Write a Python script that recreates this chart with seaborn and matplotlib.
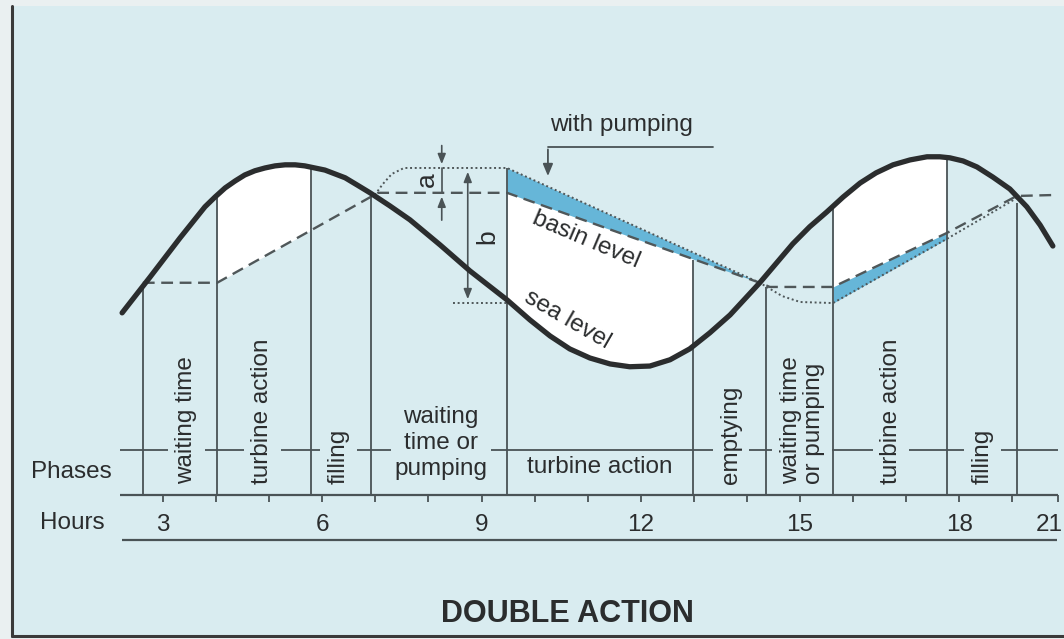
import numpy as np
import matplotlib
matplotlib.use("Agg")
import matplotlib.pyplot as plt
from matplotlib.patches import Rectangle
from matplotlib.lines import Line2D
import seaborn as sns

# sea level (tide): hours / metres about mean level
sea_hours = [2.23, 2.76, 3.32, 3.79, 3.98, 4.17, 4.36, 4.54, 4.73, 4.92, 5.11, 5.30,
             5.49, 5.67, 5.86, 6.05, 6.24, 6.43, 6.65, 6.90, 7.27, 7.65, 8.22, 8.78,
             9.48, 9.91, 10.29, 10.66, 11.04, 11.42, 11.79, 12.17, 12.55, 12.92, 13.30,
             13.68, 14.24, 14.86, 15.18, 15.50, 15.81, 16.13, 16.43, 16.75, 17.07,
             17.39, 17.63, 17.82, 18.07, 18.33, 18.63, 18.95, 19.27, 19.52, 19.76]
sea_level = [-1.37, -0.34, 0.77, 1.66, 1.94, 2.20, 2.40, 2.57, 2.69, 2.77, 2.83, 2.86,
             2.86, 2.83, 2.77, 2.71, 2.60, 2.49, 2.29, 2.06, 1.69, 1.29, 0.57, -0.17,
             -1.00, -1.57, -2.03, -2.40, -2.66, -2.83, -2.91, -2.89, -2.71, -2.40, -1.94,
             -1.43, -0.51, 0.60, 1.09, 1.51, 1.94, 2.34, 2.63, 2.86, 3.00,
             3.09, 3.09, 3.06, 2.97, 2.80, 2.51, 2.17, 1.66, 1.14, 0.54]

# basin level without pumping (dashed)
basin_hours = [2.62, 4.02, 7.05, 9.48, 14.24, 14.43, 15.62, 17.76, 19.08, 19.85]
basin_level = [-0.51, -0.51, 2.06, 2.06, -0.51, -0.63, -0.63, 0.91, 1.97, 2.00]

# basin level with pumping (dotted)
pump_hours = [6.99, 7.14, 7.31, 7.54, 9.48, 14.24, 14.66, 15.00, 15.62, 17.76, 19.08]
pump_level = [2.00, 2.31, 2.60, 2.77, 2.77, -0.51, -0.89, -1.06, -1.09, 0.74, 1.91]

# phase boundaries (hours) and the level each line reaches
phase_bounds = [2.62, 4.02, 5.79, 6.92, 9.48, 12.98, 14.36, 15.62, 17.76, 19.08]
bound_tops = [-0.66, 2.00, 2.77, 2.06, 2.77, 0.14, -0.63, 1.66, 3.06, 1.77]

phase_names = ["waiting time", "turbine action", "filling", "waiting\ntime or\npumping",
               "turbine action", "emptying", "waiting time\nor pumping",
               "turbine action", "filling"]
phase_label_hours = [3.44, 4.87, 6.31, 8.24, 11.23, 13.70, 15.04, 16.71, 18.43]
phase_upright = [False, False, False, True, True, False, False, False, False]

hour_ticks = [3, 6, 9, 12, 15, 18, 19.7]
hour_labels = ["3", "6", "9", "12", "15", "18", "21"]

turbine_spans = [(4.02, 5.79), (9.48, 12.98), (15.62, 17.76)]
pump_spans = [(9.48, 14.24), (15.62, 17.76)]

BG = "#d9ecf0"
INK = "#2b2d2e"
GREY = "#4a5356"
BLUE = "#66b6d8"
FS = 17.5

sns.set_theme(style="white")
plt.rcParams["font.family"] = ["Liberation Sans", "DejaVu Sans"]

fig = plt.figure(figsize=(10.64, 6.39), dpi=100, facecolor="#eaf0f1")
fig.add_artist(Rectangle((12 / 1064, 3 / 639), 1 - 12 / 1064, 1 - 9 / 639,
                         transform=fig.transFigure, facecolor=BG, edgecolor="none", zorder=-2))
fig.add_artist(Line2D([12 / 1064, 12 / 1064], [3 / 639, 1 - 6 / 639], transform=fig.transFigure,
                      color="#3a3a3a", lw=2.2, zorder=-1))
fig.add_artist(Line2D([12 / 1064, 1], [3 / 639, 3 / 639], transform=fig.transFigure,
                      color="#3a3a3a", lw=2.2, zorder=-1))

ax = fig.add_axes([0, 0, 1, 1])
ax.patch.set_visible(False)
ax.set_xlim(-0.07, 19.97)
ax.set_ylim(-10.69, 7.57)
ax.axis("off")

# white = water head used by the turbines, blue = extra head from pumping
for a, b in turbine_spans:
    g = np.linspace(a, b, 300)
    ax.fill_between(g, np.interp(g, sea_hours, sea_level), np.interp(g, basin_hours, basin_level),
                    color="white", lw=0, zorder=1)
for a, b in pump_spans:
    g = np.linspace(a, b, 300)
    ax.fill_between(g, np.interp(g, pump_hours, pump_level), np.interp(g, basin_hours, basin_level),
                    color=BLUE, lw=0, zorder=1)

sns.lineplot(x=basin_hours, y=basin_level, ax=ax, color="#4f5759", lw=1.7,
             linestyle=(0, (5, 2.8)), sort=False, estimator=None, zorder=3)
sns.lineplot(x=pump_hours, y=pump_level, ax=ax, color="#4f5759", lw=1.4,
             linestyle=(0, (1, 1.4)), sort=False, estimator=None, zorder=3)
sns.lineplot(x=sea_hours, y=sea_level, ax=ax, color=INK, lw=3.8, sort=False,
             estimator=None, zorder=6, solid_joinstyle="round")

# phase grid
y_mid, y_phase, y_hours = -5.29, -6.57, -7.86
ax.vlines(phase_bounds, y_phase, bound_tops, color=GREY, lw=1.3, zorder=5)
ax.hlines(y_mid, 2.19, 19.85, color=GREY, lw=1.3, zorder=2)
ax.hlines(y_phase, 2.19, 19.85, color=GREY, lw=1.6, zorder=2)
ax.hlines(y_hours, 2.23, 19.83, color=GREY, lw=1.6, zorder=2)
ax.vlines(list(range(3, 20)) + [19.85], y_phase, y_phase - 0.2, color=GREY, lw=1.3, zorder=2)

for x, name, upright in zip(phase_label_hours, phase_names, phase_upright):
    if upright and "\n" in name:
        ax.text(x, -5.09, name, ha="center", va="center", fontsize=FS, color=INK,
                linespacing=1.25, zorder=4,
                bbox=dict(boxstyle="square,pad=0.15", fc=BG, ec="none"))
    elif upright:
        ax.text(x, -5.77, name, ha="center", va="center", fontsize=FS, color=INK, zorder=4)
    else:
        ax.text(x, -6.26, name, ha="center", va="bottom", rotation=90, fontsize=FS,
                color=INK, linespacing=1.08, multialignment="left", zorder=4,
                bbox=dict(boxstyle="square,pad=0.3", fc=BG, ec="none"))

ax.text(1.27, -5.93, "Phases", ha="center", va="center", fontsize=FS, color=INK)
ax.text(1.30, -7.38, "Hours", ha="center", va="center", fontsize=FS, color=INK)
for x, lab in zip(hour_ticks, hour_labels):
    ax.text(x, -7.42, lab, ha="center", va="center", fontsize=FS, color=INK)

# annotations
ax.text(11.64, 4.0, "with pumping", ha="center", va="center", fontsize=FS, color=INK)
ax.plot([13.36, 10.25], [3.37, 3.37], color=GREY, lw=1.3)
ax.annotate("", xy=(10.25, 2.46), xytext=(10.25, 3.38),
            arrowprops=dict(arrowstyle="-|>,head_length=0.6,head_width=0.25",
                            color=GREY, lw=1.3))

ax.annotate("", xy=(8.25, 2.80), xytext=(8.25, 3.49),
            arrowprops=dict(arrowstyle="-|>,head_length=0.5,head_width=0.2", color=GREY, lw=1.2))
ax.annotate("", xy=(8.25, 2.03), xytext=(8.25, 1.20),
            arrowprops=dict(arrowstyle="-|>,head_length=0.5,head_width=0.2", color=GREY, lw=1.2))
ax.plot([8.25, 8.25], [2.06, 2.77], color=GREY, lw=1.2)
ax.text(7.97, 2.43, "a", rotation=90, ha="center", va="center", fontsize=19, color=INK)

ax.annotate("", xy=(8.74, 2.74), xytext=(8.74, -1.06),
            arrowprops=dict(arrowstyle="<|-|>,head_length=0.5,head_width=0.2", color=GREY, lw=1.2))
ax.plot([8.46, 9.48], [-1.09, -1.09], color="#4f5759", lw=1.4, linestyle=(0, (1, 1.4)))
ax.text(9.10, 0.80, "b", rotation=90, ha="center", va="center", fontsize=19, color=INK)

ax.text(10.97, 0.72, "basin level", rotation=-23, ha="center", va="center",
        rotation_mode="anchor", fontsize=FS, color=INK, zorder=4)
ax.text(10.61, -1.57, "sea level", rotation=-30, ha="center", va="center",
        rotation_mode="anchor", fontsize=FS, color=INK, zorder=4)

ax.text(10.61, -9.97, "DOUBLE ACTION", ha="center", va="center", fontsize=22,
        fontweight="bold", color=INK)

fig.savefig("out.png", dpi=100, facecolor=fig.get_facecolor())
